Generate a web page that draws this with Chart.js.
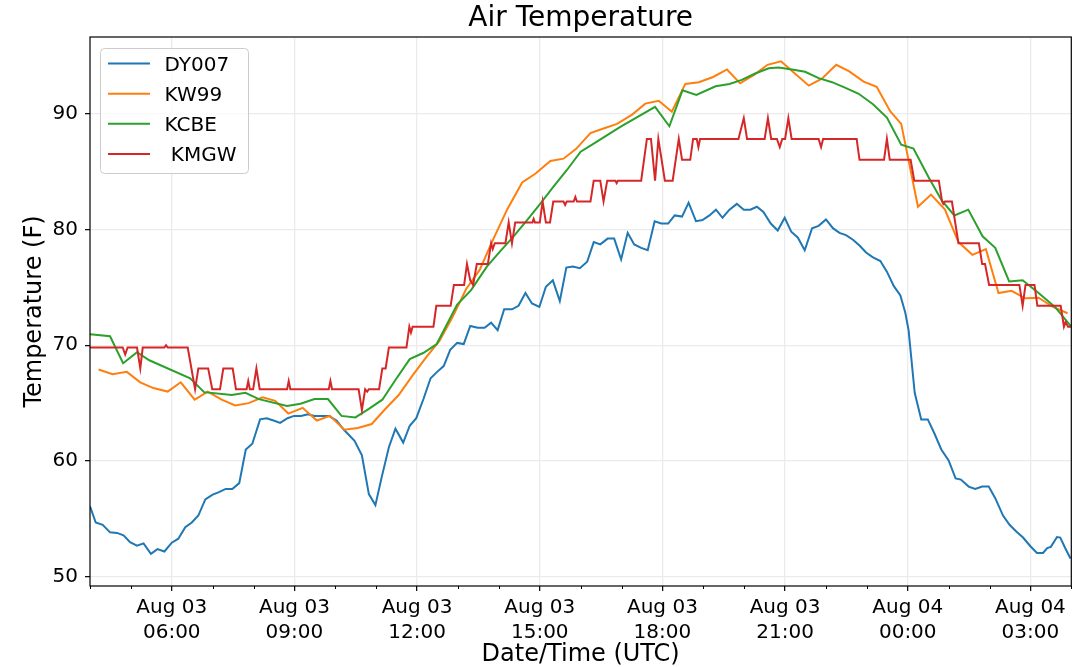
<!DOCTYPE html>
<html>
<head>
<meta charset="utf-8">
<title>Air Temperature</title>
<script src="https://cdn.jsdelivr.net/npm/chart.js@4.4.1/dist/chart.umd.min.js"></script>
<style>
  html, body { margin: 0; padding: 0; background: #fff; }
  #wrap { width: 1078px; height: 667px; }
</style>
</head>
<body>
<div id="wrap"><canvas id="chart" width="1078" height="667"></canvas></div>
<script>
// Time is in hours counted from Aug 03 00:00 UTC (24 = Aug 04 00:00)
const dy007Hours = [4.00,4.14,4.31,4.49,4.66,4.82,4.98,5.15,5.31,5.49,5.65,5.82,6.00,6.16,6.33,6.49,6.65,6.82,7.00,7.14,
  7.32,7.48,7.65,7.81,7.97,8.16,8.32,8.49,8.65,8.83,8.99,9.16,9.33,9.49,9.67,9.84,10.03,10.21,10.47,10.65,
  10.82,10.98,11.14,11.31,11.47,11.66,11.82,11.98,12.16,12.33,12.49,12.65,12.81,12.98,13.14,13.30,13.48,13.65,13.81,13.97,
  14.13,14.32,14.48,14.65,14.81,14.99,15.15,15.32,15.49,15.65,15.81,15.98,16.16,16.32,16.48,16.66,16.82,16.99,17.15,17.31,
  17.48,17.64,17.81,17.97,18.14,18.30,18.48,18.64,18.82,18.98,19.15,19.31,19.47,19.64,19.82,19.99,20.15,20.31,20.47,20.65,
  20.82,20.99,21.15,21.31,21.48,21.66,21.82,22.00,22.17,22.33,22.49,22.66,22.82,22.98,23.14,23.33,23.49,23.66,23.82,23.94,
  24.02,24.17,24.33,24.49,24.65,24.82,25.00,25.17,25.30,25.49,25.65,25.82,25.98,26.14,26.33,26.49,26.66,26.82,27.00,27.16,
  27.31,27.41,27.50,27.65,27.73,27.85,27.98];
const dy007Temps = [56.1,54.7,54.5,53.85,53.8,53.6,53.0,52.7,52.9,52.0,52.4,52.2,52.96,53.3,54.3,54.7,55.3,56.7,57.1,57.3,
  57.6,57.6,58.1,61.0,61.5,63.6,63.7,63.5,63.3,63.7,63.9,63.9,64.05,63.9,63.9,63.9,63.5,62.7,61.75,60.5,
  57.15,56.2,58.7,61.2,62.8,61.6,63.05,63.7,65.4,67.15,67.7,68.2,69.6,70.2,70.1,71.66,71.5,71.5,71.95,71.3,
  73.1,73.1,73.4,74.5,73.6,73.3,75.05,75.6,73.8,76.7,76.8,76.65,77.2,78.9,78.7,79.2,79.2,77.4,79.7,78.7,
  78.4,78.2,80.7,80.5,80.5,81.2,81.1,82.3,80.7,80.8,81.2,81.7,81.0,81.7,82.2,81.7,81.7,81.95,81.5,80.5,
  79.9,81.0,79.8,79.3,78.2,80.1,80.3,80.85,80.1,79.7,79.5,79.1,78.6,78.0,77.6,77.27,76.35,75.1,74.3,72.8,
  71.3,65.9,63.6,63.6,62.4,61.0,60.06,58.5,58.4,57.8,57.6,57.8,57.8,56.8,55.3,54.5,53.9,53.4,52.65,52.07,
  52.07,52.5,52.6,53.45,53.4,52.5,51.6];

const kw99Hours = [4.21,4.55,4.90,5.23,5.55,5.90,6.22,6.56,6.88,7.22,7.55,7.88,8.22,8.53,8.85,9.20,9.55,9.87,10.22,10.55,
  10.89,11.21,11.55,11.89,12.22,12.55,12.87,13.20,13.53,13.85,14.20,14.57,14.89,15.26,15.58,15.89,16.24,16.56,16.89,17.26,
  17.58,17.91,18.23,18.56,18.89,19.24,19.58,19.90,20.25,20.57,20.90,21.24,21.58,21.90,22.25,22.56,22.92,23.24,23.57,23.84,
  24.25,24.57,24.91,25.24,25.58,25.91,26.22,26.54,26.87,27.20,27.55,27.91];
const kw99Temps = [67.9,67.5,67.7,66.8,66.3,66.0,66.8,65.3,66.0,65.3,64.8,65.0,65.5,65.2,64.1,64.6,63.5,63.9,62.7,62.85,
  63.2,64.45,65.7,67.4,68.95,70.4,72.45,74.85,76.5,79.05,81.7,84.05,84.8,85.9,86.1,86.95,88.3,88.7,89.1,89.9,
  90.85,91.1,90.15,92.55,92.7,93.15,93.8,92.6,93.35,94.2,94.5,93.45,92.4,93.0,94.2,93.65,92.75,92.3,90.2,89.1,
  81.95,83.0,81.7,78.9,77.8,78.3,74.5,74.7,74.05,74.1,73.3,72.76];

const kcbeHours = [4.00,4.49,4.81,5.15,5.45,6.45,6.79,7.47,7.80,8.13,8.82,9.15,9.49,9.82,10.15,10.49,10.82,11.15,11.47,11.82,
  12.16,12.48,12.98,13.32,13.71,14.03,14.36,14.69,15.01,15.34,15.66,16.00,16.32,16.97,17.82,18.17,18.49,18.83,19.30,19.64,
  19.94,20.27,20.60,20.84,21.17,21.49,21.82,22.15,22.45,22.80,23.15,23.49,23.84,24.14,24.51,24.83,25.14,25.48,25.83,26.14,
  26.48,26.81,27.20,27.60,28.00];
const kcbeTemps = [70.95,70.77,68.45,69.4,68.7,67.15,65.95,65.7,65.9,65.35,64.75,64.95,65.35,65.35,63.9,63.77,64.5,65.3,67.0,68.8,
  69.35,70.1,73.5,74.75,76.8,78.1,79.4,80.8,82.2,83.7,85.1,86.7,87.4,88.85,90.57,88.9,92.0,91.6,92.35,92.55,
  92.9,93.45,93.9,93.96,93.8,93.6,93.05,92.7,92.25,91.7,90.8,89.65,87.3,86.98,84.5,82.5,81.2,81.7,79.4,78.4,
  75.5,75.6,74.5,73.3,71.6];

const kmgwHours = [4.00,4.80,4.86,4.92,5.15,5.23,5.29,5.82,5.86,5.90,6.39,6.57,6.65,6.89,6.99,7.18,7.26,7.49,7.57,7.83,
  7.87,7.91,7.99,8.07,8.15,8.82,8.86,8.90,9.84,9.88,9.92,10.57,10.65,10.73,10.78,10.82,11.07,11.15,11.23,11.31,
  11.74,11.81,11.85,11.89,12.40,12.47,12.82,12.90,13.15,13.22,13.30,13.37,13.46,13.73,13.81,13.85,13.90,14.16,14.24,14.32,
  14.40,14.82,14.85,14.88,15.00,15.07,15.15,15.25,15.33,15.58,15.62,15.66,15.83,15.87,15.91,16.24,16.32,16.48,16.56,16.65,
  16.85,16.88,16.91,17.48,17.62,17.72,17.82,17.90,18.06,18.25,18.40,18.48,18.68,18.75,18.84,18.88,18.92,19.86,19.99,20.07,
  20.50,20.58,20.66,20.80,20.87,20.93,21.00,21.08,21.16,21.82,21.88,21.93,22.75,22.82,23.42,23.49,23.56,24.07,24.16,24.76,
  24.84,24.87,24.91,25.08,25.24,25.74,25.82,25.89,25.99,26.73,26.81,26.88,27.10,27.17,27.74,27.82,27.86,27.92,28.00];
const kmgwTemps = [69.8,69.8,69.2,69.8,69.8,68.0,69.8,69.8,70.0,69.8,69.8,66.2,68.0,68.0,66.2,66.2,68.0,68.0,66.2,66.2,
  66.9,66.2,66.2,68.0,66.2,66.2,66.9,66.2,66.2,66.9,66.2,66.2,64.4,66.2,66.0,66.2,66.2,68.0,68.0,69.8,
  69.8,71.6,71.1,71.6,71.6,73.4,73.4,75.2,75.2,77.0,75.6,75.2,77.0,77.0,78.8,78.3,78.8,78.8,80.6,78.8,
  80.6,80.6,80.9,80.6,80.6,82.4,80.6,80.6,82.4,82.4,82.1,82.4,82.4,82.8,82.4,82.4,84.2,84.2,82.4,84.2,
  84.2,84.0,84.2,84.2,87.8,87.8,84.2,87.8,84.2,84.2,87.8,86.0,86.0,87.8,87.8,87.1,87.8,87.8,89.6,87.8,
  87.8,89.6,87.8,87.8,87.1,87.8,87.8,89.6,87.8,87.8,87.1,87.8,87.8,86.0,86.0,87.8,86.0,86.0,84.2,84.2,
  82.4,82.2,82.4,82.4,78.8,78.8,77.0,77.0,75.2,75.2,73.4,75.2,75.2,73.4,73.4,71.6,72.0,71.6,71.6];

const seriesNames = ['DY007', 'KW99', 'KCBE', ' KMGW'];
const seriesColors = ['#1f77b4', '#ff7f0e', '#2ca02c', '#d62728'];
const xTicks = [6, 9, 12, 15, 18, 21, 24, 27];
const yTicks = [50, 60, 70, 80, 90];

const FONT = "'DejaVu Sans', 'Liberation Sans', sans-serif";

function points(hours, temps){
  return hours.map((h, i) => ({ x: h, y: temps[i] }));
}

function tickLabel(v){
  const day = v >= 24 ? 'Aug 04' : 'Aug 03';
  const hh = String(v % 24).padStart(2, '0');
  return [day, hh + ':00'];
}

// spines, minor ticks and the legend box (drawn like matplotlib's)
const axesFrame = {
  id: 'axesFrame',
  afterDatasetsDraw(chart){
    const ctx = chart.ctx, a = chart.chartArea;
    const xs = chart.scales.x;
    ctx.save();
    ctx.strokeStyle = '#000';
    ctx.lineWidth = 1;
    // minor ticks every hour
    for(let h = Math.ceil(xs.min); h <= xs.max; h++){
      if(xTicks.includes(h)) continue;
      const px = Math.round(xs.getPixelForValue(h)) + 0.5;
      ctx.beginPath();
      ctx.moveTo(px, a.bottom);
      ctx.lineTo(px, a.bottom + 3);
      ctx.stroke();
    }
    ctx.lineWidth = 1.2;
    ctx.strokeRect(a.left, a.top, a.right - a.left, a.bottom - a.top);
    ctx.restore();
  },
  afterDraw(chart){
    const ctx = chart.ctx, a = chart.chartArea;
    const bx = a.left + 10, by = a.top + 11, bw = 148, bh = 125;
    ctx.save();
    ctx.beginPath();
    ctx.roundRect(bx + 0.5, by + 0.5, bw, bh, 4);
    ctx.fillStyle = 'rgba(255,255,255,0.8)';
    ctx.fill();
    ctx.strokeStyle = '#cccccc';
    ctx.lineWidth = 1;
    ctx.stroke();
    ctx.font = '20px ' + FONT;
    ctx.textBaseline = 'alphabetic';
    chart.data.datasets.forEach((ds, i) => {
      const ry = by + 15.6 + i * 30.1;
      ctx.strokeStyle = ds.borderColor;
      ctx.lineWidth = 2;
      ctx.beginPath();
      ctx.moveTo(bx + 8, ry);
      ctx.lineTo(bx + 50, ry);
      ctx.stroke();
      ctx.fillStyle = '#000';
      ctx.fillText(ds.label, bx + 64.5, ry + 7.3);
    });
    ctx.restore();
  }
};

const seriesData = [
  points(dy007Hours, dy007Temps),
  points(kw99Hours, kw99Temps),
  points(kcbeHours, kcbeTemps),
  points(kmgwHours, kmgwTemps)
];

new Chart(document.getElementById('chart'), {
  type: 'line',
  data: {
    datasets: seriesData.map((d, i) => ({
      label: seriesNames[i],
      data: d,
      borderColor: seriesColors[i],
      backgroundColor: seriesColors[i],
      borderWidth: 2,
      pointRadius: 0,
      tension: 0,
      fill: false,
      order: 4 - i
    }))
  },
  options: {
    responsive: false,
    animation: false,
    devicePixelRatio: 1,
    layout: { padding: { left: 0, right: 6.7, top: 0, bottom: 0 } },
    plugins: {
      legend: { display: false },
      tooltip: { enabled: false },
      title: {
        display: true,
        text: 'Air Temperature',
        fullSize: false,
        color: '#000',
        font: { family: FONT, size: 28, weight: 'normal', lineHeight: 1.2 },
        padding: { top: 2.3, bottom: 1.1 }
      }
    },
    scales: {
      x: {
        type: 'linear',
        min: 4,
        max: 28,
        afterBuildTicks: ax => { ax.ticks = xTicks.map(v => ({ value: v })); },
        afterFit: ax => { ax.height = 81; },
        border: { display: false },
        grid: { color: '#ebebeb', lineWidth: 1.3, tickColor: '#000', tickLength: 5, tickWidth: 1.2 },
        ticks: {
          autoSkip: false, maxRotation: 0, padding: 4, color: '#000',
          font: { family: FONT, size: 20, lineHeight: 1.25 },
          callback: v => tickLabel(v)
        },
        title: {
          display: true, text: 'Date/Time (UTC)', color: '#000',
          font: { family: FONT, size: 24, lineHeight: 1 },
          padding: { top: 0, bottom: 0 }
        }
      },
      y: {
        type: 'linear',
        min: 49.22,
        max: 96.6,
        afterBuildTicks: ax => { ax.ticks = yTicks.map(v => ({ value: v })); },
        afterFit: ax => { ax.width = 90; },
        border: { display: false },
        grid: { color: '#ebebeb', lineWidth: 1.3, tickColor: '#000', tickLength: 5, tickWidth: 1.2 },
        ticks: { padding: 7, color: '#000', font: { family: FONT, size: 20 } },
        title: {
          display: true, text: 'Temperature (F)', color: '#000',
          font: { family: FONT, size: 24, lineHeight: 1 },
          padding: { top: 23, bottom: 0 }
        }
      }
    }
  },
  plugins: [axesFrame]
});
</script>
</body>
</html>
